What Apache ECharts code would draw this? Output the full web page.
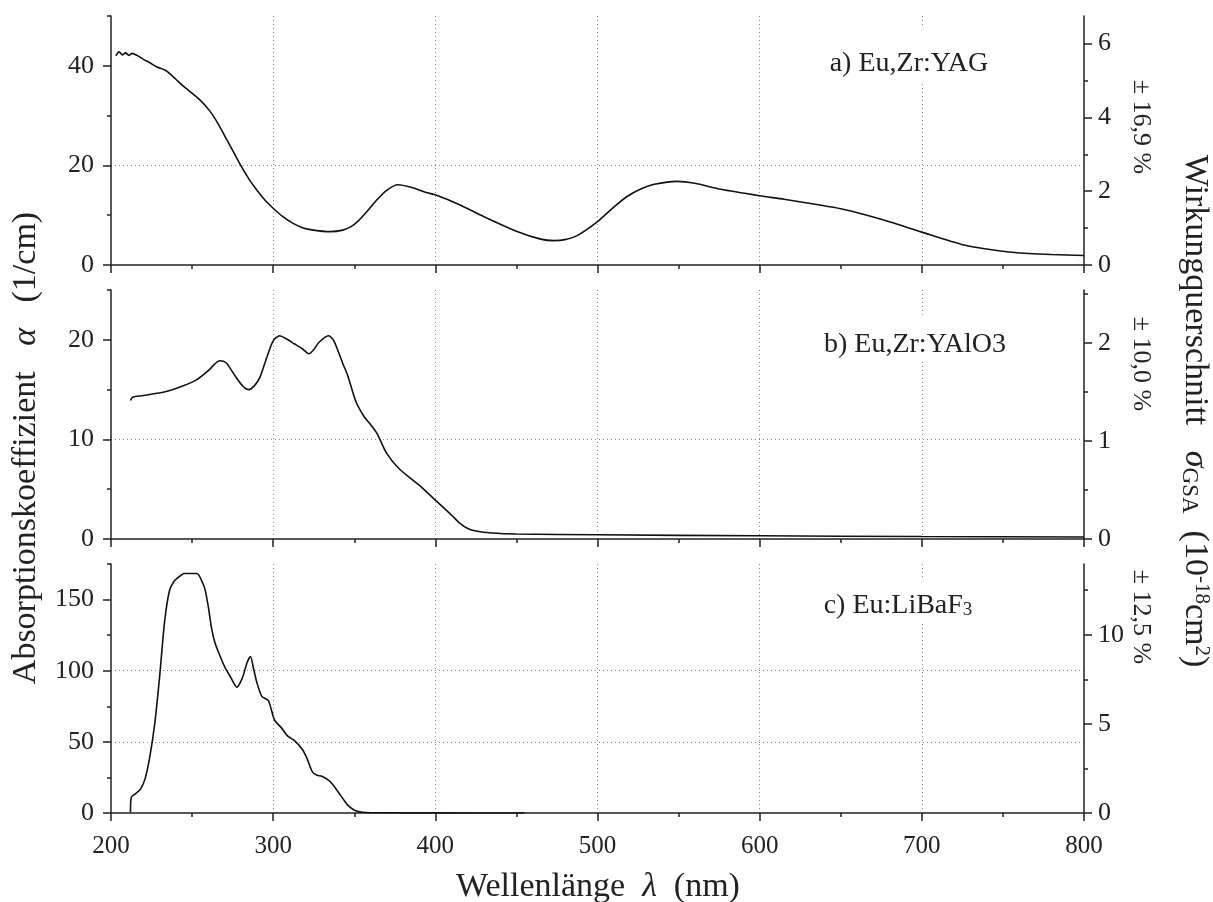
<!DOCTYPE html>
<html><head><meta charset="utf-8">
<script src="https://cdn.jsdelivr.net/npm/echarts@6/dist/echarts.min.js"></script>
<style>html,body{margin:0;padding:0;background:#fff}#c{width:1213px;height:902px}</style>
</head><body><div id="c"></div>
<script>
const FONT = '"Liberation Serif", "Times New Roman", serif';

// a) Eu,Zr:YAG
const wlA = [203,205,207,209,211,213,216,220,224,228,234,240,245,254,261,266,270,275,280,285,290,295,300,306,312,318,325,335,343,348,352,358,364,370,377,385,395,400,415,430,450,465,473,480,488,500,510,518,527,535,549,560,576,600,615,638,650,665,681,700,726,740,757,780,800];
const alphaA = [42.0,42.8,42.2,42.6,42.1,42.5,42.1,41.3,40.6,39.8,39.0,37.3,35.8,33.4,30.9,28.4,26.0,23.0,20.0,17.3,15.0,13.0,11.4,9.7,8.4,7.5,7.0,6.7,7.0,7.7,8.7,10.8,13.1,15.0,16.1,15.6,14.5,14.1,12.1,9.7,6.8,5.2,4.9,5.1,6.0,8.7,11.6,13.7,15.3,16.2,16.8,16.4,15.2,13.9,13.2,12.0,11.3,10.1,8.6,6.6,4.0,3.2,2.5,2.1,1.9];

// b) Eu,Zr:YAlO3
const wlB = [212,213,215,220,234,245,253,260,267,271,276,281,285,289,292,296,300,304,308,313,318,322,325,328,334,337,339,343,346,351,356,360,364,370,378,390,400,410,415,420,425,435,450,500,600,700,800];
const alphaB = [13.9,14.2,14.3,14.4,14.8,15.4,16.0,16.9,17.9,17.7,16.5,15.4,15.0,15.5,16.3,18.2,19.9,20.4,20.1,19.6,19.1,18.6,19.0,19.7,20.4,20.0,19.3,17.6,16.4,13.8,12.3,11.5,10.6,8.6,7.0,5.4,3.9,2.4,1.6,1.05,0.8,0.6,0.5,0.42,0.32,0.25,0.2];

// c) Eu:LiBaF3
const wlC = [212,212.5,215,218,221,224,227,230,233,236,239,242.6,245,253,256,258,260,262,264,267,270,274,277.6,281,284,286,288,290,293,297,299,301,305,309,313,318,321,324,327,330,335,340,343.4,346,349.6,352,355,360,380,420,455];
const alphaC = [0.5,11,13.5,16.4,24,40,63,96,134,156,163,166.6,168.3,168.3,163,157,145,130,120,111,103,95,88.5,95,106,110,101,91.5,82,79,72,65,60,54,51,44.6,38,29.3,26.5,25.8,22.3,15,9.4,5.5,2.3,1.2,0.5,0.2,0.1,0.05,0.02];

const wavelengths = [wlA, wlB, wlC];
const alphas = [alphaA, alphaB, alphaC];

const xMin = 200, xMax = 800, xStep = 100, xMinorStep = 50;
const xTickLabels = [200, 300, 400, 500, 600, 700, 800];
const leftMax = [50, 25, 175];
const leftStep = [20, 10, 50];
const leftMajor = [[0,20,40],[0,10,20],[0,50,100,150]];
const leftMinor = [[10,30,50],[5,15,25],[25,75,125,175]];
const rightMax = [6.75, 2.54, 13.97];
const rightStep = [2, 1, 5];
const rightMajor = [[0,2,4,6],[0,1,2],[0,5,10]];
const rightMinor = [[1,3,5],[0.5,1.5,2.5],[2.5,7.5,12.5]];
const panelLabels = ['a) Eu,Zr:YAG', 'b) Eu,Zr:YAlO3', '{n|c) Eu:LiBaF}{s|3}'];
const errLabels = ['± 16,9 %', '± 10,0 %', '± 12,5 %'];

const gridTops = [16, 290, 564];
const gridH = 249;
const AX = '#222';
const gridLine = { show: true, showMinLine: false, showMaxLine: false, lineStyle: { color: '#8a8a8a', width: 1, type: [1, 3] } };
const noGrid = { show: false };

const grids = [], xAxes = [], yAxes = [], series = [];
for (let i = 0; i < 3; i++) {
  grids.push({ left: 111, right: 129, top: gridTops[i], height: gridH, outerBoundsMode: 'none', containLabel: false });
  xAxes.push({
    gridIndex: i, type: 'value', position: 'bottom', min: xMin, max: xMax, interval: xStep,
    axisLine: { show: true, onZero: false, lineStyle: { color: AX, width: 1.5 } },
    axisTick: { show: true, inside: false, length: 8, lineStyle: { color: AX, width: 1.5 } },
    axisLabel: { show: i === 2, margin: 21, color: AX, fontSize: 25, fontFamily: FONT,
      formatter: v => (xTickLabels.includes(v) ? String(v) : '') },
    splitLine: gridLine
  });
  xAxes.push({
    gridIndex: i, type: 'value', position: 'bottom', min: xMin, max: xMax, interval: xMinorStep,
    axisLine: { show: false, onZero: false },
    axisTick: { show: true, inside: false, length: 4, lineStyle: { color: AX, width: 1.5 } },
    axisLabel: { show: false }, splitLine: noGrid
  });
  const lm = leftMajor[i], rm = rightMajor[i];
  yAxes.push({
    gridIndex: i, type: 'value', position: 'left', min: 0, max: leftMax[i], interval: leftStep[i],
    axisLine: { show: true, onZero: false, lineStyle: { color: AX, width: 1.5 } },
    axisTick: { show: true, inside: false, length: 8, customValues: lm, lineStyle: { color: AX, width: 1.5 } },
    axisLabel: { show: true, margin: 17, color: AX, fontSize: 26, fontFamily: FONT, customValues: lm,
      formatter: v => (lm.includes(v) ? String(v) : '') },
    splitLine: gridLine
  });
  yAxes.push({
    gridIndex: i, type: 'value', position: 'left', min: 0, max: leftMax[i], interval: leftStep[i] / 2,
    axisLine: { show: false, onZero: false },
    axisTick: { show: true, inside: false, length: 4, customValues: leftMinor[i], lineStyle: { color: AX, width: 1.5 } },
    axisLabel: { show: false }, splitLine: noGrid
  });
  yAxes.push({
    gridIndex: i, type: 'value', position: 'right', min: 0, max: rightMax[i], interval: rightStep[i],
    axisLine: { show: true, onZero: false, lineStyle: { color: AX, width: 1.5 } },
    axisTick: { show: true, inside: false, length: 8, customValues: rm, lineStyle: { color: AX, width: 1.5 } },
    axisLabel: { show: true, margin: 14, color: AX, fontSize: 26, fontFamily: FONT, customValues: rm,
      formatter: v => (rm.includes(v) ? String(v) : '') },
    splitLine: noGrid
  });
  yAxes.push({
    gridIndex: i, type: 'value', position: 'right', min: 0, max: rightMax[i], interval: rightStep[i] / 2,
    axisLine: { show: false, onZero: false },
    axisTick: { show: true, inside: false, length: 4, customValues: rightMinor[i], lineStyle: { color: AX, width: 1.5 } },
    axisLabel: { show: false }, splitLine: noGrid
  });
  series.push({
    type: 'line', xAxisIndex: 2 * i, yAxisIndex: 4 * i,
    data: wavelengths[i].map((w, k) => [w, alphas[i][k]]),
    showSymbol: false, symbol: 'none', smooth: 0.25, silent: true,
    lineStyle: { color: '#111', width: 1.6 }, z: 5
  });
}

const labelPos = [
  { x: 909, y: 55, pad: [22, 12, 5, 12] },
  { x: 915, y: 338, pad: [15, 8, 2, 8] },
  { x: 898, y: 601, pad: [12, 11, 3, 11] }
];
const graphics = [];
for (let i = 0; i < 3; i++) {
  graphics.push({
    type: 'text', x: labelPos[i].x, y: labelPos[i].y, z: 100,
    style: {
      text: panelLabels[i], fontSize: 28, fontFamily: FONT, fill: AX,
      align: 'center', verticalAlign: 'middle', backgroundColor: '#fff', padding: labelPos[i].pad,
      rich: { n: { fontSize: 28, fontFamily: FONT, fill: AX }, s: { fontSize: 19, fontFamily: FONT, fill: AX, verticalAlign: 'bottom' } }
    }
  });
}
const errY = [127, 364, 617];
for (let i = 0; i < 3; i++) {
  graphics.push({
    type: 'text', x: 1141, y: errY[i], rotation: -Math.PI / 2, z: 100,
    style: { text: errLabels[i], fontSize: 26, fontFamily: FONT, fill: AX, align: 'center', verticalAlign: 'middle' }
  });
}
graphics.push({
  type: 'text', x: 26, y: 448, rotation: Math.PI / 2, z: 100,
  style: {
    text: '{t|Absorptionskoeffizient   }{i|α}{t|   (1/cm)}', fill: AX, align: 'center', verticalAlign: 'middle',
    fontSize: 34, fontFamily: FONT,
    rich: { t: { fontSize: 34, fontFamily: FONT, fill: AX }, i: { fontSize: 34, fontFamily: FONT, fontStyle: 'italic', fill: AX } }
  }
});
graphics.push({
  type: 'text', x: 1195, y: 411, rotation: -Math.PI / 2, z: 100,
  style: {
    text: '{t|Wirkungquerschnitt   }{i|σ}{g|GSA}{t|  (10}{p|-18}{t|cm}{p|2}{t|)}', fill: AX, align: 'center', verticalAlign: 'middle',
    fontSize: 34, fontFamily: FONT,
    rich: {
      t: { fontSize: 34, fontFamily: FONT, fill: AX },
      i: { fontSize: 34, fontFamily: FONT, fontStyle: 'italic', fill: AX },
      g: { fontSize: 23, fontFamily: FONT, fill: AX, verticalAlign: 'bottom' },
      p: { fontSize: 21, fontFamily: FONT, fill: AX, verticalAlign: 'top' }
    }
  }
});
graphics.push({
  type: 'text', x: 598, y: 887, z: 100,
  style: {
    text: '{t|Wellenlänge  }{i|λ}{t|  (nm)}', fill: AX, align: 'center', verticalAlign: 'middle',
    fontSize: 34, fontFamily: FONT,
    rich: { t: { fontSize: 34, fontFamily: FONT, fill: AX }, i: { fontSize: 34, fontFamily: FONT, fontStyle: 'italic', fill: AX } }
  }
});

const chart = echarts.init(document.getElementById('c'), null, { renderer: 'canvas' });
chart.setOption({
  animation: false,
  backgroundColor: '#fff',
  grid: grids, xAxis: xAxes, yAxis: yAxes, series: series, graphic: graphics
});
</script></body></html>
